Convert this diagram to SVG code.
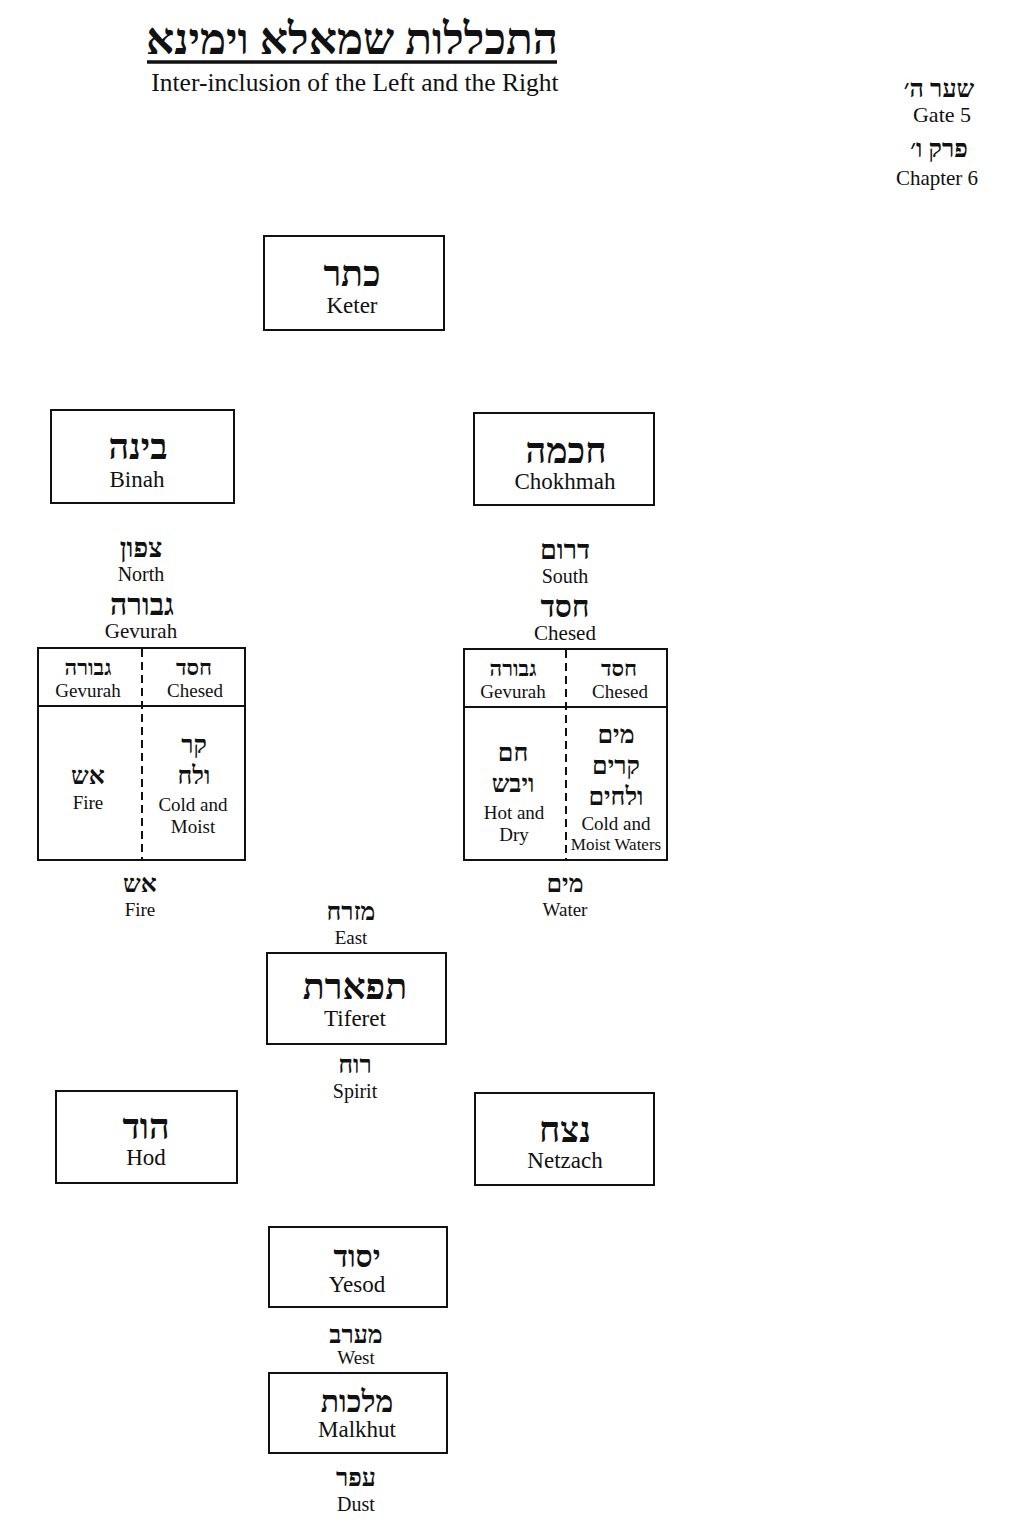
<svg xmlns="http://www.w3.org/2000/svg" width="1024" height="1536" viewBox="0 0 1024 1536">
<style>
.bg{fill:#fff}
.box{fill:#fff;stroke:#111;stroke-width:2}
.ln{stroke:#111;stroke-width:2;fill:none}
.dash{stroke:#111;stroke-width:2;stroke-dasharray:8,5;fill:none}
.he{font-family:"Liberation Serif","DejaVu Sans",serif;font-weight:bold;fill:#111;text-anchor:middle;direction:rtl;unicode-bidi:embed}
.en{font-family:"Liberation Serif","DejaVu Serif",serif;fill:#111;text-anchor:middle}
.h36{font-size:36px}.h30{font-size:30px}.h27{font-size:27px}.h25{font-size:25px}.h22{font-size:22px}
.e23{font-size:23px}.e21{font-size:21px}.e20{font-size:20px}.e19{font-size:19px}.e17{font-size:17px}
</style>
<rect class="bg" x="0" y="0" width="1024" height="1536"/>

<g id="title">
<text class="he" x="352" y="54" direction="rtl" style="font-size:44px">התכללות שמאלא וימינא</text>
<line x1="147" y1="62" x2="557" y2="62" stroke="#111" stroke-width="3.5"/>
<text class="en" x="355" y="91" style="font-size:25.5px">Inter-inclusion of the Left and the Right</text>
</g>

<g id="gate">
<text class="he h25" x="939" y="97" direction="rtl">שער ה׳</text>
<text class="en e22" x="942" y="122" style="font-size:22px">Gate 5</text>
<text class="he h25" x="939" y="157" direction="rtl">פרק ו׳</text>
<text class="en e21" x="937" y="185">Chapter 6</text>
</g>

<g id="connectors"></g>

<g id="keter">
<rect class="box" x="264" y="236" width="180" height="94"/>
<text class="he h36" x="352" y="286" direction="rtl">כתר</text>
<text class="en e23" x="352" y="313">Keter</text>
</g>

<g id="binah">
<rect class="box" x="51" y="410" width="183" height="93"/>
<text class="he h36" x="138" y="459" direction="rtl">בינה</text>
<text class="en e23" x="137" y="487">Binah</text>
</g>

<g id="chokhmah">
<rect class="box" x="474" y="413" width="180" height="92"/>
<text class="he h36" x="566" y="463" direction="rtl">חכמה</text>
<text class="en e23" x="565" y="489">Chokhmah</text>
</g>

<g id="north-labels">
<text class="he h27" x="141" y="557" direction="rtl">צפון</text>
<text class="en e20" x="141" y="581">North</text>
<text class="he h30" x="142" y="615" direction="rtl">גבורה</text>
<text class="en e21" x="141" y="638">Gevurah</text>
</g>

<g id="south-labels">
<text class="he h27" x="565" y="559" direction="rtl">דרום</text>
<text class="en e20" x="565" y="583">South</text>
<text class="he h30" x="565" y="617" direction="rtl">חסד</text>
<text class="en e21" x="565" y="640">Chesed</text>
</g>

<g id="left-table">
<rect class="box" x="38" y="648" width="207" height="212"/>
<line class="ln" x1="38" y1="706" x2="245" y2="706"/>
<line class="dash" x1="142" y1="649" x2="142" y2="859"/>
<text class="he h22" x="88" y="675" direction="rtl">גבורה</text>
<text class="en e19" x="88" y="697">Gevurah</text>
<text class="he h22" x="194" y="675" direction="rtl">חסד</text>
<text class="en e19" x="195" y="697">Chesed</text>
<text class="he h25" x="88" y="784" direction="rtl">אש</text>
<text class="en e19" x="88" y="809">Fire</text>
<text class="he h25" x="194" y="753" direction="rtl">קר</text>
<text class="he h25" x="194" y="784" direction="rtl">ולח</text>
<text class="en e19" x="193" y="811">Cold and</text>
<text class="en e19" x="193" y="833">Moist</text>
</g>

<g id="right-table">
<rect class="box" x="464" y="649" width="203" height="211"/>
<line class="ln" x1="464" y1="707" x2="667" y2="707"/>
<line class="dash" x1="566" y1="650" x2="566" y2="859"/>
<text class="he h22" x="513" y="676" direction="rtl">גבורה</text>
<text class="en e19" x="513" y="698">Gevurah</text>
<text class="he h22" x="619" y="676" direction="rtl">חסד</text>
<text class="en e19" x="620" y="698">Chesed</text>
<text class="he h25" x="513" y="761" direction="rtl">חם</text>
<text class="he h25" x="513" y="792" direction="rtl">ויבש</text>
<text class="en e19" x="514" y="819">Hot and</text>
<text class="en e19" x="514" y="841">Dry</text>
<text class="he h25" x="616" y="743" direction="rtl">מים</text>
<text class="he h25" x="616" y="774" direction="rtl">קרים</text>
<text class="he h25" x="616" y="805" direction="rtl">ולחים</text>
<text class="en e19" x="616" y="830">Cold and</text>
<text class="en e17" x="616" y="850">Moist Waters</text>
</g>

<g id="fire-label">
<text class="he h25" x="140" y="892" direction="rtl">אש</text>
<text class="en e19" x="140" y="916">Fire</text>
</g>
<g id="water-label">
<text class="he h25" x="565" y="892" direction="rtl">מים</text>
<text class="en e19" x="565" y="916">Water</text>
</g>
<g id="east-label">
<text class="he h25" x="351" y="920" direction="rtl">מזרח</text>
<text class="en e19" x="351" y="944">East</text>
</g>

<g id="tiferet">
<rect class="box" x="267" y="953" width="179" height="91"/>
<text class="he h36" x="355" y="999" direction="rtl">תפארת</text>
<text class="en e23" x="355" y="1026">Tiferet</text>
</g>

<g id="spirit-label">
<text class="he h25" x="355" y="1073" direction="rtl">רוח</text>
<text class="en e20" x="355" y="1098">Spirit</text>
</g>

<g id="hod">
<rect class="box" x="56" y="1091" width="181" height="92"/>
<text class="he h36" x="146" y="1139" direction="rtl">הוד</text>
<text class="en e23" x="146" y="1165">Hod</text>
</g>

<g id="netzach">
<rect class="box" x="475" y="1093" width="179" height="92"/>
<text class="he h36" x="565" y="1142" direction="rtl">נצח</text>
<text class="en e23" x="565" y="1168">Netzach</text>
</g>

<g id="yesod">
<rect class="box" x="269" y="1227" width="178" height="80"/>
<text class="he h30" x="357" y="1267" direction="rtl">יסוד</text>
<text class="en e23" x="357" y="1292">Yesod</text>
</g>

<g id="west-label">
<text class="he h25" x="356" y="1343" direction="rtl">מערב</text>
<text class="en e19" x="356" y="1364">West</text>
</g>

<g id="malkhut">
<rect class="box" x="269" y="1373" width="178" height="80"/>
<text class="he h30" x="357" y="1412" direction="rtl">מלכות</text>
<text class="en e23" x="357" y="1437">Malkhut</text>
</g>

<g id="dust-label">
<text class="he h25" x="356" y="1486" direction="rtl">עפר</text>
<text class="en e20" x="356" y="1511">Dust</text>
</g>
</svg>
